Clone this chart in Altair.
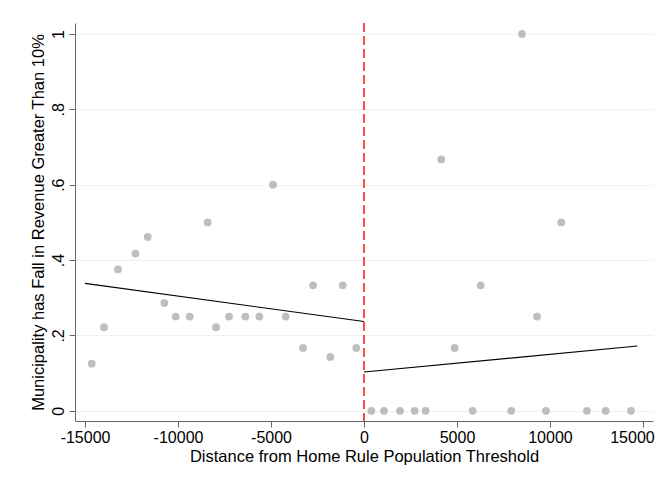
import altair as alt
import pandas as pd

# Binned scatter values (distance from threshold, share with revenue fall > 10%)
left_x = [-14640, -13980, -13230, -12290, -11630, -10735, -10125, -9373, -8405, -7957,
          -7258, -6380, -5627, -4892, -4210, -3280, -2742, -1810, -1145, -414]
left_y = [0.125, 0.222, 0.375, 0.417, 0.4615, 0.286, 0.25, 0.25, 0.5, 0.222,
          0.25, 0.25, 0.25, 0.6, 0.25, 0.167, 0.333, 0.143, 0.333, 0.167]
right_x = [395, 1075, 1935, 2724, 3315, 4156, 4875, 5844, 6272, 7921,
           8495, 9301, 9785, 10608, 11989, 12995, 14355]
right_y = [0, 0, 0, 0, 0, 0.667, 0.167, 0, 0.333, 0,
           1.0, 0.25, 0, 0.5, 0, 0, 0]

# Linear fit segments on each side of the threshold
fit_x = [-15000, 0, 0, 14700]
fit_y = [0.338, 0.237, 0.103, 0.172]
fit_side = ["left", "left", "right", "right"]

threshold = [0]

pts = pd.DataFrame({"x": left_x + right_x, "y": left_y + right_y})
fit = pd.DataFrame({"x": fit_x, "y": fit_y, "side": fit_side})
thr = pd.DataFrame({"x": threshold})

FONT = "Liberation Sans"
xscale = alt.Scale(domain=[-15540, 15540], nice=False, zero=False)
yscale = alt.Scale(domain=[-0.027, 1.029], nice=False, zero=False)

xaxis = alt.Axis(values=[-15000, -10000, -5000, 0, 5000, 10000, 15000],
                 labelExpr="'' + datum.value",
                 labelOffset={"expr": "datum.value == 15000 ? -11 : 0"},
                 title="Distance from Home Rule Population Threshold", grid=False,
                 labelFontSize=16, titleFontSize=16.5, labelColor="#000", titleColor="#000",
                 labelFont=FONT, titleFont=FONT, titleFontWeight="normal",
                 domainColor="#666", tickColor="#666", tickSize=6, labelPadding=2,
                 titlePadding=3, labelOverlap=False, labelBound=False, labelFlush=False)
yaxis = alt.Axis(values=[0, 0.2, 0.4, 0.6, 0.8, 1.0],
                 labelExpr="datum.value == 0 ? '0' : datum.value == 1 ? '1' : replace(format(datum.value, '.1f'), '0.', '.')",
                 title="Municipality has Fall in Revenue Greater Than 10%",
                 grid=True, gridColor="#EAF2F3", gridWidth=1.2,
                 labelAngle=270, labelAlign="center", labelBaseline="bottom",
                 labelFontSize=16, titleFontSize=16.5, labelColor="#000", titleColor="#000",
                 labelFont=FONT, titleFont=FONT, titleFontWeight="normal",
                 domainColor="#666", tickColor="#666", tickSize=6, labelPadding=3,
                 titlePadding=4)

points = alt.Chart(pts).mark_circle(size=60, color="#BEBEBE", opacity=1).encode(
    x=alt.X("x:Q", scale=xscale, axis=xaxis),
    y=alt.Y("y:Q", scale=yscale, axis=yaxis),
)

lines = alt.Chart(fit).mark_line(color="#000", strokeWidth=1.2).encode(
    x=alt.X("x:Q", scale=xscale),
    y=alt.Y("y:Q", scale=yscale),
    detail="side:N",
)

rule = alt.Chart(thr).mark_rule(color="#FF0000", strokeWidth=1.4, strokeDash=[9, 4]).encode(
    x=alt.X("x:Q", scale=xscale),
)

chart = alt.layer(points, rule, lines).properties(
    width=578, height=398,
    padding={"left": 67, "top": 15, "right": 3, "bottom": 50},
    autosize=alt.AutoSizeParams(type="none"),
    background="white",
).configure_view(stroke=None)

chart.save("out.html", embed_options={"renderer": "svg", "actions": False})
